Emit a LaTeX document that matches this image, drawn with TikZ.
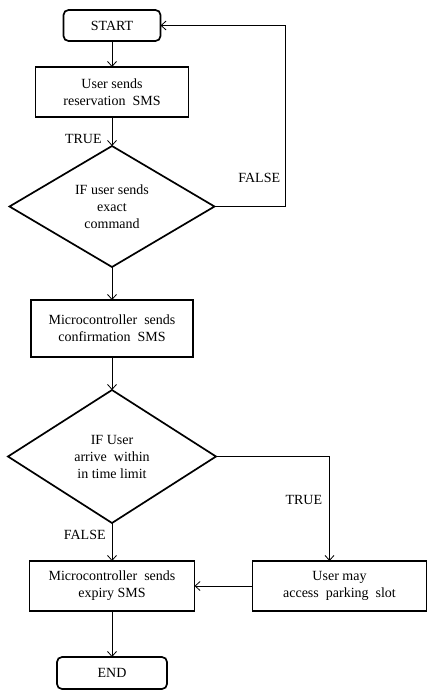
\documentclass[tikz,border=0pt]{standalone}
\usepackage{fontspec}
\setmainfont{Liberation Serif}
\usetikzlibrary{positioning,shapes.geometric,arrows.meta}

\begin{document}
\begin{tikzpicture}[x=1pt,y=1pt,
		font=\fontsize{14}{17}\selectfont,
		box/.style={draw, line width=1.7pt, align=center, inner sep=2pt, outer sep=0pt},
		term/.style={box, rounded corners=5pt},
		cond/.style={draw, line width=1.7pt, diamond, align=center, inner sep=0pt, outer sep=0pt},
		arrow/.style={-{Straight Barb[length=5pt,width=9pt]}, line width=0.8pt},
		lbl/.style={inner sep=2pt}
	]
		\useasboundingbox (0,0) rectangle (428,-690);
		\node[term, minimum width=97pt, minimum height=31pt] (start) at (112,-25.5) {START};
		\node[box, minimum width=153pt, minimum height=50pt, below=26pt of start] (res) {User sends\\reservation~~SMS};
		\node[cond, minimum width=205pt, minimum height=121pt, below=29pt of res] (chk) {IF user sends\\exact\\command};
		\node[box, minimum width=162pt, minimum height=57pt, below=33pt of chk] (conf) {Microcontroller~~sends\\confirmation~~SMS};
		\node[cond, minimum width=208pt, minimum height=133pt, below=33pt of conf] (arr) {IF User\\arrive~~within\\in time limit};
		\node[box, minimum width=165pt, minimum height=50pt, below=38pt of arr] (exp) {Microcontroller~~sends\\expiry SMS};
		\node[box, minimum width=174pt, minimum height=50pt, right=58pt of exp] (park) {User may\\access~~parking~~slot};
		\node[term, minimum width=110pt, minimum height=32pt, below=46pt of exp] (end) {END};

		\draw[arrow] (start) -- (res);
		\draw[arrow] (res) -- node[lbl, pos=.75, left, xshift=-8pt] {TRUE} (chk);
		\draw[arrow] (chk.east) -- ++(71,0) |- node[lbl, pos=.08, left, xshift=-3pt] {FALSE} (start.east);
		\draw[arrow] (chk) -- (conf);
		\draw[arrow] (conf) -- (arr);
		\draw[arrow] (arr) -- node[lbl, pos=.32, left, xshift=-4pt] {FALSE} (exp);
		\draw[arrow] (arr.east) -| node[lbl, pos=.71, left, xshift=-5pt] {TRUE} ([xshift=-10pt]park.north);
		\draw[arrow] (park) -- (exp);
		\draw[arrow] (exp) -- (end);
	\end{tikzpicture}
\end{document}
